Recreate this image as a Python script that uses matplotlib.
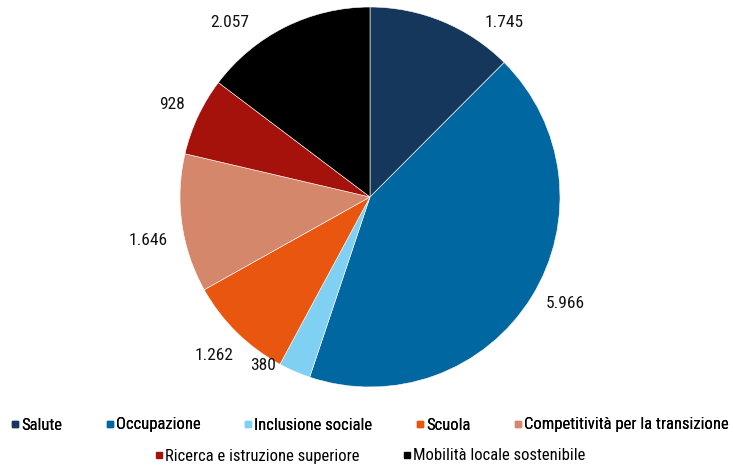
import numpy as np
import matplotlib.pyplot as plt
from matplotlib.lines import Line2D

plt.rcParams['font.family'] = ['Roboto Condensed', 'DejaVu Sans']

# Allocations by mission component
categories = ['Salute', 'Occupazione', 'Inclusione sociale', 'Scuola',
              'Competitività per la transizione',
              'Ricerca e istruzione superiore', 'Mobilità locale sostenibile']
values = [1745, 5966, 380, 1262, 1646, 928, 2057]
value_labels = ['1.745', '5.966', '380', '1.262', '1.646', '928', '2.057']
colors = ['#16375c', '#0067a0', '#80d0f4', '#e8560f', '#d5876c', '#a5120c', '#000000']

W, H = 733, 466
cx, cy, R = 370, 197, 190   # pie centre and radius in pixels

fig = plt.figure(figsize=(W / 100, H / 100), dpi=100)
ax = fig.add_axes([0, 0, 1, 1])
wedges, _ = ax.pie(values, colors=colors, startangle=90, counterclock=False,
                   radius=1, center=(0, 0),
                   wedgeprops=dict(linewidth=0.4, edgecolor='white'))
ax.set_xlim(-cx / R, (W - cx) / R)
ax.set_ylim(-(H - cy) / R, cy / R)
ax.set_aspect('auto')
ax.axis('off')

# value labels outside each slice, pushed back inside the top margin when needed
label_r = [1.16, 1.17, 1.05, 1.17, 1.19, 1.15, 1.18]
nudge = [0, 3, -9, 0, 3, 0, 0]
top_y = (cy - 22) / R
for w, lab, r, dn in zip(wedges, value_labels, label_r, nudge):
    ang = np.deg2rad((w.theta1 + w.theta2) / 2 + dn)
    x, y = r * np.cos(ang), r * np.sin(ang)
    if y > top_y:
        y = top_y
        x = np.sign(x) * np.sqrt(r ** 2 - y ** 2)
    ax.text(x, y, lab, ha='center', va='center', fontsize=12.5, color='#111111')

def handles(idx):
    return [Line2D([], [], marker='s', linestyle='none', markersize=5,
                   markerfacecolor=colors[i], markeredgecolor=colors[i]) for i in idx]

leg_kw = dict(frameon=False, fontsize=12, handlelength=0.5, handletextpad=0.12,
              columnspacing=2.6, borderaxespad=0, borderpad=0)
leg1 = fig.legend(handles(range(5)), categories[:5], ncol=5, loc='center',
                  bbox_to_anchor=(370 / W, 1 - 425 / H), **leg_kw)
fig.add_artist(leg1)
fig.legend(handles(range(5, 7)), categories[5:], ncol=2, loc='center',
           bbox_to_anchor=(370 / W, 1 - 456 / H), **leg_kw)

fig.savefig('out.png', dpi=100)
